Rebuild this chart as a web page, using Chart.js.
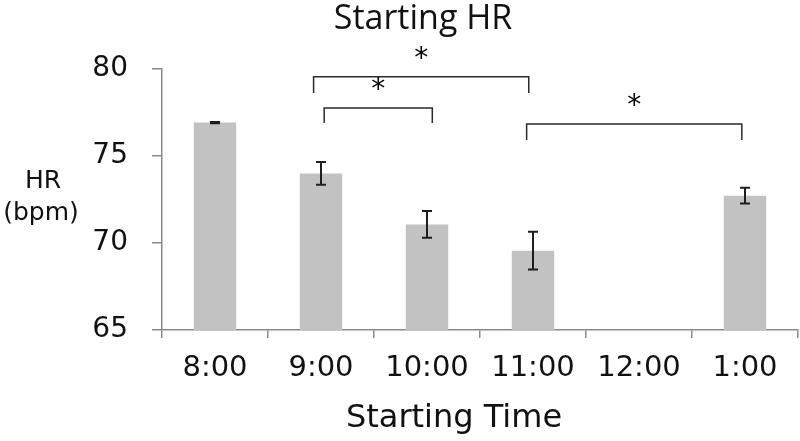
<!DOCTYPE html>
<html>
<head>
<meta charset="utf-8">
<script src="https://cdn.jsdelivr.net/npm/chart.js@4"></script>
<style>
  html, body { margin: 0; padding: 0; background: #fff; }
  #wrap { width: 800px; height: 441px; position: relative; }
</style>
</head>
<body>
<div id="wrap"><canvas id="hrChart"></canvas></div>
<script>
// данные
const times = ['8:00', '9:00', '10:00', '11:00', '12:00', '1:00'];
const hrValues = [76.92, 74.0, 71.07, 69.56, null, 72.72];
const hrErrors = [0.04, 0.65, 0.77, 1.08, null, 0.45];
const yTicks = [65, 70, 75, 80];

// скобки значимости: от категории, до категории, уровень линии, низ ножек
const bracketFrom = [0.93, 1.03, 2.94];
const bracketTo = [2.96, 2.05, 4.97];
const bracketTop = [79.56, 77.76, 76.84];
const bracketFoot = [78.62, 76.9, 75.92];
const bracketMark = ['*', '*', '*'];

const tickFont = '"DejaVu Sans", sans-serif';
const axisGray = '#8a8a8a';

// усы ошибок, скобки и подписи осей
const extrasPlugin = {
    id: 'extras',
    afterDatasetsDraw(chart) {
        const ctx = chart.ctx;
        const x = chart.scales.x;
        const y = chart.scales.y;

        ctx.save();
        ctx.strokeStyle = '#1e1e1e';
        ctx.lineWidth = 2;
        hrValues.forEach((v, i) => {
            if (v === null) return;
            const e = hrErrors[i];
            const cx = x.getPixelForValue(i);
            const top = y.getPixelForValue(v + e);
            const bot = y.getPixelForValue(v - e);
            ctx.beginPath();
            ctx.moveTo(cx, top); ctx.lineTo(cx, bot);
            ctx.moveTo(cx - 5, top); ctx.lineTo(cx + 5, top);
            ctx.moveTo(cx - 5, bot); ctx.lineTo(cx + 5, bot);
            ctx.stroke();
        });

        ctx.strokeStyle = '#2a2a2a';
        ctx.lineWidth = 1.5;
        ctx.fillStyle = '#000';
        ctx.font = '28px "DejaVu Sans", sans-serif';
        ctx.textAlign = 'center';
        ctx.textBaseline = 'middle';
        bracketFrom.forEach((f, i) => {
            const x1 = x.getPixelForValue(f);
            const x2 = x.getPixelForValue(bracketTo[i]);
            const yt = y.getPixelForValue(bracketTop[i]);
            const yf = y.getPixelForValue(bracketFoot[i]);
            ctx.beginPath();
            ctx.moveTo(x1, yf); ctx.lineTo(x1, yt);
            ctx.lineTo(x2, yt); ctx.lineTo(x2, yf);
            ctx.stroke();
            ctx.fillText(bracketMark[i], (x1 + x2) / 2, yt - 17);
        });

        // подписи
        ctx.fillStyle = '#111';
        ctx.font = '34px "Open Sans", sans-serif';
        ctx.fillText('Starting HR', 423, 19);
        ctx.font = '32px "DejaVu Sans", sans-serif';
        ctx.fillText('Starting Time', 454, 419);
        ctx.font = '25px "DejaVu Sans", sans-serif';
        ctx.fillText('HR', 43, 181);
        ctx.fillText('(bpm)', 41, 213);
        ctx.restore();
    }
};

const hrChart = new Chart(document.getElementById('hrChart'), {
    type: 'bar',
    data: {
        labels: times,
        datasets: [{
            data: hrValues,
            backgroundColor: '#c2c2c2',
            borderWidth: 0,
            barPercentage: 0.4,
            categoryPercentage: 1.0
        }]
    },
    options: {
        responsive: true,
        maintainAspectRatio: false,
        animation: false,
        layout: {
            padding: { top: 69, right: 2, bottom: 0, left: 0 }
        },
        plugins: {
            legend: { display: false },
            tooltip: { enabled: false }
        },
        scales: {
            y: {
                min: 65,
                max: 80,
                afterBuildTicks: function(scale) {
                    scale.ticks = yTicks.map(v => ({ value: v }));
                },
                afterFit: function(scale) {
                    scale.width = 162;
                },
                grid: {
                    drawOnChartArea: false,
                    color: axisGray,
                    tickLength: 10,
                    lineWidth: 1.5
                },
                border: { color: axisGray, width: 1.5 },
                ticks: {
                    color: '#111',
                    padding: 24,
                    font: { family: tickFont, size: 28 }
                }
            },
            x: {
                afterFit: function(scale) {
                    scale.height = 111;
                },
                grid: {
                    offset: true,
                    drawOnChartArea: false,
                    color: axisGray,
                    tickLength: 8,
                    lineWidth: 1.5
                },
                border: { color: axisGray, width: 1.5 },
                ticks: {
                    color: '#111',
                    padding: 13,
                    maxRotation: 0,
                    font: { family: tickFont, size: 29 }
                }
            }
        }
    },
    plugins: [extrasPlugin]
});
</script>
</body>
</html>
